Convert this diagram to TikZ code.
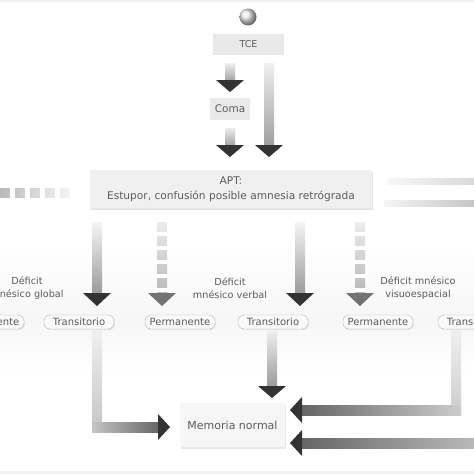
\documentclass[tikz,border=0pt]{standalone}
\usepackage{fontspec}
\setmainfont{DejaVu Sans}
\usetikzlibrary{shadows,calc}
\definecolor{txt}{gray}{0.36}
\definecolor{headc}{gray}{0.2}
\definecolor{headl}{gray}{0.45}
\newcommand{\garrowdown}[6]{%
  \shade[top color=#4, bottom color=#5] ($(#1)+(-5,0)$) rectangle ($(#2)+(5,0)$);
  \fill[#6] ($(#2)+(-14,0)$) -- ($(#2)+(14,0)$) -- (#3) -- cycle;}
\newcommand{\whitegaps}[2]{%
  \draw[white, line width=12pt, dash pattern=on 4pt off 10pt, dash phase=4pt] (#1) -- (#2);}
\begin{document}
\begin{tikzpicture}[x=1pt,y=-1pt,
  lbl/.style={font=\fontsize{9.7}{13}\selectfont, text=txt, align=center, inner sep=0pt},
  tbox/.style={fill=gray!17, inner sep=0pt, text=txt},
  pill/.style={draw=gray!55, fill=gray!5, rounded corners=6pt, minimum width=70pt,
    minimum height=14pt, inner sep=0pt, font=\fontsize{10}{11}\selectfont, text=txt,
    drop shadow={opacity=0.15, shadow xshift=0.8pt, shadow yshift=-1.2pt}},
  membox/.style={fill=gray!7, inner sep=0pt, minimum width=105pt, minimum height=44pt,
    font=\fontsize{11}{12}\selectfont, text=txt,
    drop shadow={opacity=0.18, shadow xshift=1pt, shadow yshift=-2pt}}
]
\clip (0,0) rectangle (474,474);
\fill[white] (0,0) rectangle (474,474);
\fill[gray!10] (0,0) rectangle (474,2);
\fill[gray!10] (0,471) rectangle (474,474);
% soft background band
\shade[top color=white, bottom color=gray!7] (0,245) rectangle (474,322);
\shade[top color=gray!7, bottom color=white] (0,322) rectangle (474,372);

% nodes
\node[circle, shade, ball color=gray!18, minimum size=17pt, inner sep=0pt] (ball) at (248,17) {};
\node[tbox, minimum width=71pt, minimum height=21pt, font=\fontsize{9.5}{11}\selectfont] (tce) at (248.5,44.5) {TCE};
\node[tbox, minimum width=40pt, minimum height=22pt, font=\fontsize{10.5}{12}\selectfont] (coma) at (230,109) {Coma};
\node[fill=gray!12, minimum width=282pt, minimum height=38pt, inner sep=0pt, align=center,
  font=\fontsize{10.6}{15}\selectfont, text=txt,
  drop shadow={opacity=0.2, shadow xshift=1pt, shadow yshift=-2pt}] (apt) at (231,189)
  {APT:\\Estupor, confusión posible amnesia retrógrada};

\node[lbl] (lglob) at (27,288) {Déficit\\mnésico global};
\node[lbl] (lverb) at (230,288) {Déficit\\mnésico verbal};
\node[lbl] (lvis) at (418,288) {Déficit mnésico\\visuoespacial};

\node[pill] (p0) at (-11,322) {Permanente};
\node[pill] (t1) at (79,322) {Transitorio};
\node[pill] (p2) at (180,322) {Permanente};
\node[pill] (t2) at (273,322) {Transitorio};
\node[pill] (p3) at (378,322) {Permanente};
\node[pill] (t4) at (473,322) {Transitorio};

\node[membox] (mem) at (232.5,425) {Memoria normal};

% arrows from TCE and Coma
\coordinate (a1s) at (230,63); \coordinate (a1h) at (230,80); \coordinate (a1t) at (230,92);
\garrowdown{a1s}{a1h}{a1t}{gray!12}{gray!70}{headc}
\coordinate (a2s) at (269,63); \coordinate (a2h) at (269,145); \coordinate (a2t) at (269,157);
\garrowdown{a2s}{a2h}{a2t}{gray!12}{gray!75}{headc}
\coordinate (a3s) at (230,128); \coordinate (a3h) at (230,145); \coordinate (a3t) at (230,157);
\garrowdown{a3s}{a3h}{a3t}{gray!15}{gray!70}{headc}

% side lines at APT
\shade[left color=gray!55, right color=gray!8] (0,188) rectangle (70,197);
\coordinate (dl1) at (0,192.5); \coordinate (dl2) at (72,192.5);
\draw[white, line width=12pt, dash pattern=on 5pt off 10pt, dash phase=5pt] (dl1) -- (dl2);
\shade[left color=gray!6, right color=gray!30] (387,178) rectangle (474,184);
\shade[left color=gray!8, right color=gray!45] (384,200) rectangle (474,206);

% arrows from APT
\coordinate (b1s) at (97,222); \coordinate (b1h) at (97,293); \coordinate (b1t) at (97,306);
\garrowdown{b1s}{b1h}{b1t}{gray!8}{gray!78}{headc}
\coordinate (b2s) at (162,222); \coordinate (b2h) at (162,293); \coordinate (b2t) at (162,306);
\garrowdown{b2s}{b2h}{b2t}{gray!15}{gray!55}{headl}
\whitegaps{b2s}{b2h}
\coordinate (b3s) at (300,222); \coordinate (b3h) at (300,293); \coordinate (b3t) at (300,306);
\garrowdown{b3s}{b3h}{b3t}{gray!8}{gray!78}{headc}
\coordinate (b4s) at (360,222); \coordinate (b4h) at (360,293); \coordinate (b4t) at (360,306);
\garrowdown{b4s}{b4h}{b4t}{gray!15}{gray!55}{headl}
\whitegaps{b4s}{b4h}

% arrows to Memoria normal
\shade[top color=gray!12, bottom color=gray!45] (92,330) rectangle (102,432);
\shade[left color=gray!45, right color=gray!80!black] (92,422) rectangle (158,432);
\fill[headc] (158,414) -- (158,440) -- (170,427) -- cycle;

\coordinate (c2s) at (272,330); \coordinate (c2h) at (272,386); \coordinate (c2t) at (272,398);
\garrowdown{c2s}{c2h}{c2t}{gray!12}{gray!78}{headc}

\shade[top color=gray!12, bottom color=gray!40] (451,330) rectangle (461,415);
\shade[left color=gray!80!black, right color=gray!40] (302,405) rectangle (461,415);
\fill[headc] (302,397) -- (302,423) -- (290,410) -- cycle;

\shade[left color=gray!80!black, right color=gray!55] (302,438) rectangle (474,448);
\fill[headc] (302,430) -- (302,456) -- (290,443) -- cycle;
\end{tikzpicture}
\end{document}
